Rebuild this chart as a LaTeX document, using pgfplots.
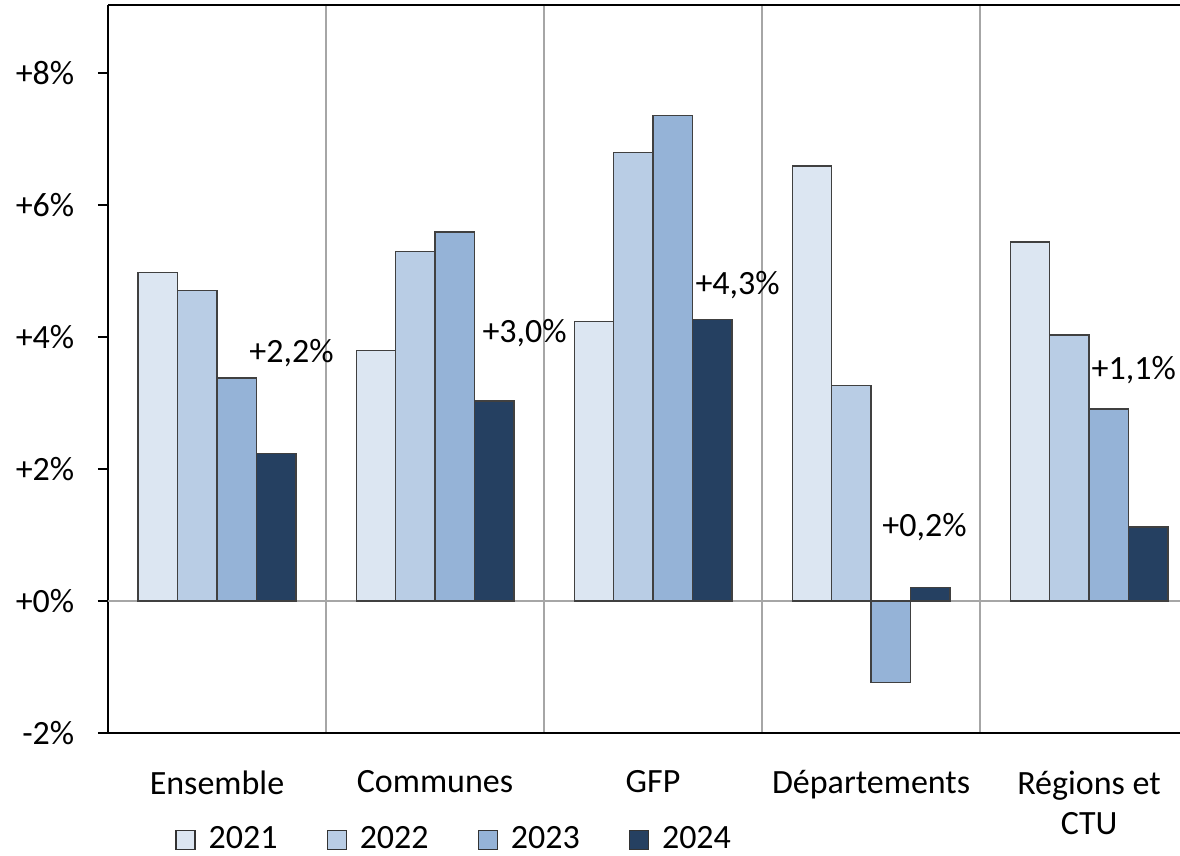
\documentclass[border=0pt]{standalone}
\usepackage{pgfplots}
\pgfplotsset{compat=1.18}
\usepackage{fontspec}
\setmainfont{Carlito}

\definecolor{c21}{HTML}{DCE6F2}
\definecolor{c22}{HTML}{B9CDE5}
\definecolor{c23}{HTML}{95B3D7}
\definecolor{c24}{HTML}{254061}
\definecolor{gridgray}{HTML}{A6A6A6}

\begin{document}
\fontsize{17}{20.4}\selectfont
\begin{tikzpicture}
  \begin{axis}[
    scale only axis,
    width=536pt, height=364pt,
    xmin=-0.5, xmax=4.417,
    ymin=-2, ymax=9.03,
    axis x line=box,
    axis y line=left,
    y axis line style={-, line width=1pt},
    x axis line style={line width=1pt},
    ytick={-2,0,2,4,6,8},
    yticklabels={-2\%,+0\%,+2\%,+4\%,+6\%,+8\%},
    yticklabel style={xshift=-6pt},
    ytick style={black, line width=0.8pt},
    tick align=outside,
    major tick length=5pt,
    xtick={0,1,2,3,4},
    xticklabels={Ensemble,Communes,GFP,Départements,{Régions et\\CTU}},
    xtick style={draw=none},
    xticklabel style={align=center, yshift=-8pt},
    minor xtick={0.5,1.5,2.5,3.5},
    xminorgrids,
    minor grid style={gridgray, line width=1pt},
    extra y ticks={0},
    extra y tick labels={},
    extra y tick style={grid=major, major grid style={gridgray, line width=1pt}},
    ybar=0pt,
    bar width=0.181,
    every axis plot/.append style={draw=black!75, line width=0.6pt},
    legend columns=4,
    legend style={draw=none, at={(0.322,-0.147)}, anchor=center,
      nodes={inner sep=0pt},
      /tikz/every odd column/.append style={column sep=6.5pt},
      /tikz/every even column/.append style={column sep=24.5pt}},
    legend image code/.code={\draw[#1, draw=black!80, line width=0.6pt] (0pt,-4.75pt) rectangle (9.5pt,4.75pt);},
  ]
    % 2021
    \addplot[fill=c21] coordinates {(0,4.98) (1,3.79) (2,4.23) (3,6.59) (4,5.44)};
    % 2022
    \addplot[fill=c22] coordinates {(0,4.71) (1,5.30) (2,6.79) (3,3.27) (4,4.03)};
    % 2023
    \addplot[fill=c23] coordinates {(0,3.38) (1,5.59) (2,7.36) (3,-1.23) (4,2.91)};
    % 2024
    \addplot[fill=c24] coordinates {(0,2.24) (1,3.03) (2,4.27) (3,0.20) (4,1.12)};
    \legend{2021,2022,2023,2024}

    \node[anchor=west, inner sep=0pt] at (axis cs:0.147,3.76) {+2,2\%};
    \node[anchor=west, inner sep=0pt] at (axis cs:1.216,4.06) {+3,0\%};
    \node[anchor=west, inner sep=0pt] at (axis cs:2.193,4.79) {+4,3\%};
    \node[anchor=west, inner sep=0pt] at (axis cs:3.050,1.12) {+0,2\%};
    \node[anchor=west, inner sep=0pt] at (axis cs:4.010,3.50) {+1,1\%};

    \coordinate (bl) at (rel axis cs:0,0);
    \coordinate (tr) at (rel axis cs:1,1);
  \end{axis}
  \pgfresetboundingbox
  \path[use as bounding box] ([xshift=-54pt,yshift=-61pt]bl) rectangle ([yshift=2.5pt]tr);
\end{tikzpicture}
\end{document}
